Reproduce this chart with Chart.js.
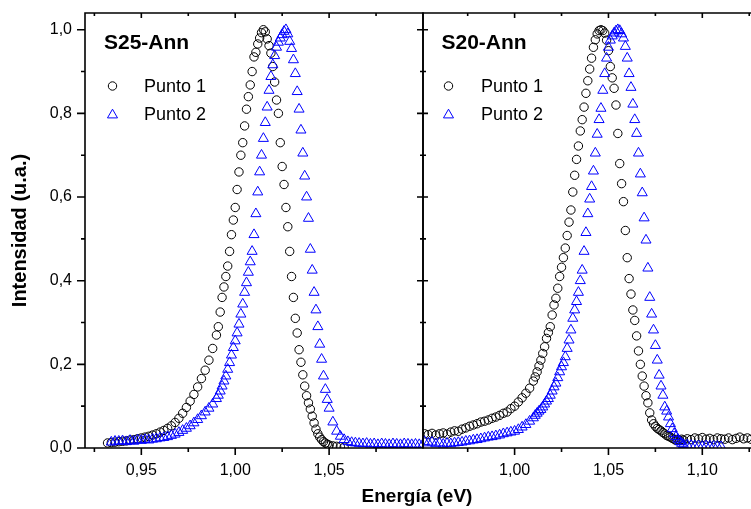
<!DOCTYPE html>
<html><head><meta charset="utf-8">
<script src="https://cdn.jsdelivr.net/npm/chart.js@4.4.1/dist/chart.umd.min.js"></script>
<style>
html,body{margin:0;padding:0;background:#fff;overflow:hidden;width:751px;height:509px;}
#wrap{position:relative;width:751px;height:509px;overflow:hidden;background:#fff;}
#c1{position:absolute;left:0;top:0;}
#c2{position:absolute;left:422px;top:0;}
#xt{position:absolute;left:0;top:485px;width:834px;text-align:center;font:bold 19px "Liberation Sans",Arial,sans-serif;line-height:22px;color:#000;}
</style></head>
<body><div id="wrap">
<canvas id="c1" width="424" height="509"></canvas>
<canvas id="c2" width="338" height="509"></canvas>
<div id="xt">Energía (eV)</div>
</div>
<script>
// ---------- DATA ----------
// Left panel (S25-Ann): photon energy (eV)
const energyS25 = [0.932,0.934,0.936,0.938,0.940,0.942,0.944,0.946,0.948,0.950,0.952,0.954,0.956,0.958,0.960,0.962,0.964,0.966,0.968,0.970,0.972,0.974,0.976,0.978,0.980,0.982,0.984,0.986,0.988,0.990,
0.991,0.992,0.993,0.994,0.995,0.996,0.997,0.998,0.999,1.000,1.001,1.002,1.003,1.004,1.005,1.006,1.007,1.008,1.009,1.010,
1.011,1.012,1.013,1.014,1.015,1.016,1.017,1.018,1.019,1.020,1.021,1.022,1.023,1.024,1.025,1.026,1.027,1.028,1.029,1.030,
1.031,1.032,1.033,1.034,1.035,1.036,1.037,1.038,1.039,1.040,1.041,1.042,1.043,1.044,1.045,1.046,1.047,1.048,1.049,1.050,
1.052,1.054,1.056,1.058,1.060,1.062,1.064,1.066,1.068,1.070,1.072,1.074,1.076,1.078,1.080,1.082,1.084,1.086,1.088,1.090,1.092,1.094,1.096,1.098,1.100];
const s25Punto1 = [0.012,0.013,0.014,0.015,0.016,0.017,0.019,0.020,0.022,0.024,0.026,0.028,0.031,0.034,0.038,0.042,0.047,0.053,0.061,0.071,0.083,0.097,0.112,0.128,0.146,0.166,0.186,0.210,0.238,0.270,
0.290,0.325,0.360,0.385,0.410,0.435,0.470,0.510,0.545,0.575,0.618,0.660,0.700,0.730,0.770,0.810,0.840,0.868,0.900,0.935,
0.946,0.966,0.980,0.993,1.000,0.995,0.978,0.962,0.944,0.912,0.875,0.832,0.800,0.730,0.673,0.630,0.575,0.529,0.470,0.410,
0.360,0.310,0.275,0.235,0.205,0.175,0.148,0.125,0.108,0.093,0.076,0.060,0.045,0.034,0.026,0.020,0.015,0.012,0.009,0.007,
0.005,0.004,0.003,0.002,null,null,null,null,null,null,null,null,null,null,null,null,null,null,null,null,null,null,null,null,null];
const s25Punto2 = [null,0.014,0.016,0.016,0.017,0.015,0.018,0.016,0.019,0.018,0.020,0.019,0.021,0.022,0.024,0.025,0.027,0.030,0.033,0.037,0.042,0.047,0.053,0.060,0.068,0.077,0.086,0.095,0.105,0.118,
0.126,0.136,0.148,0.160,0.172,0.188,0.204,0.222,0.240,0.256,0.275,0.296,0.320,0.344,0.372,0.395,0.420,0.445,0.470,0.510,
0.560,0.612,0.660,0.700,0.740,0.778,0.815,0.855,0.888,0.916,0.938,0.958,0.970,0.980,0.988,0.996,1.000,0.990,0.972,0.955,
0.928,0.895,0.852,0.810,0.760,0.705,0.650,0.600,0.549,0.475,0.425,0.372,0.330,0.290,0.248,0.212,0.172,0.140,0.116,0.095,
0.062,0.040,0.028,0.020,0.015,0.013,0.012,0.011,0.010,0.011,0.009,0.010,0.008,0.010,0.009,0.008,0.010,0.009,0.008,0.010,0.009,0.008,0.009,0.008,0.009];

// Right panel (S20-Ann)
const energyS20 = [0.952,0.954,0.956,0.958,0.960,0.962,0.964,0.966,0.968,0.970,0.972,0.974,0.976,0.978,0.980,0.982,0.984,0.986,0.988,0.990,0.992,0.994,0.996,0.998,1.000,1.002,1.004,1.006,1.008,1.010,
1.011,1.012,1.013,1.014,1.015,1.016,1.017,1.018,1.019,1.020,1.021,1.022,1.023,1.024,1.025,1.026,1.027,1.028,1.029,1.030,
1.031,1.032,1.033,1.034,1.035,1.036,1.037,1.038,1.039,1.040,1.041,1.042,1.043,1.044,1.045,1.046,1.047,1.048,1.049,1.050,
1.051,1.052,1.053,1.054,1.055,1.056,1.057,1.058,1.059,1.060,1.061,1.062,1.063,1.064,1.065,1.066,1.067,1.068,1.069,1.070,
1.071,1.072,1.073,1.074,1.075,1.076,1.077,1.078,1.079,1.080,1.081,1.082,1.083,1.084,1.085,1.086,1.087,1.088,1.089,1.090,
1.092,1.094,1.096,1.098,1.100,1.102,1.104,1.106,1.108,1.110,1.112,1.114,1.116,1.118,1.120,1.122,1.124,1.126];
const s20Punto1 = [0.034,0.032,0.035,0.031,0.034,0.036,0.033,0.038,0.041,0.040,0.045,0.048,0.052,0.055,0.058,0.062,0.064,0.067,0.071,0.074,0.078,0.083,0.086,0.094,0.100,0.110,0.120,0.131,0.143,0.160,
0.170,0.182,0.196,0.210,0.226,0.242,0.262,0.276,0.290,0.318,0.342,0.358,0.382,0.410,0.432,0.455,0.478,0.508,0.540,0.569,
0.612,0.652,0.690,0.722,0.758,0.785,0.815,0.848,0.878,0.906,0.932,0.958,0.976,0.990,0.998,1.000,0.998,0.992,0.975,0.950,
0.912,0.885,0.860,0.820,0.752,0.680,0.632,0.589,0.520,0.455,0.405,0.368,0.330,0.305,0.268,0.232,0.200,0.172,0.148,0.125,
0.108,0.084,0.067,0.058,0.052,0.047,0.044,0.041,0.037,0.034,0.030,0.028,0.026,0.023,0.021,0.018,0.020,0.018,0.021,0.019,
0.022,0.020,0.024,0.022,0.025,0.021,0.023,0.020,0.024,0.022,0.021,0.024,0.020,0.023,0.026,0.022,0.024,0.021];
const s20Punto2 = [0.015,0.012,0.014,0.010,0.012,0.009,0.011,0.010,0.012,0.013,0.014,0.016,0.017,0.019,0.020,0.022,0.024,0.026,0.027,0.029,0.031,0.034,0.036,0.038,0.040,0.044,0.050,0.056,0.064,0.072,
0.078,0.083,0.088,0.092,0.098,0.105,0.112,0.118,0.126,0.136,0.146,0.155,0.168,0.182,0.194,0.204,0.218,0.238,0.258,0.282,
0.310,0.330,0.350,0.372,0.400,0.425,0.470,0.515,0.560,0.595,0.625,0.662,0.705,0.750,0.785,0.812,0.855,0.895,0.932,0.958,
0.975,0.985,0.992,0.997,1.000,0.998,0.990,0.980,0.960,0.932,0.895,0.862,0.822,0.785,0.752,0.705,0.655,0.610,0.550,0.497,
0.430,0.360,0.320,0.282,0.245,0.210,0.174,0.148,0.126,0.098,0.088,0.074,0.058,0.046,0.034,0.027,0.021,0.015,0.011,0.008,
0.007,0.006,0.005,0.005,0.004,0.005,0.004,0.004,0.004,0.003,null,null,null,null,null,null,null,null];

// Ticks
const yTickValues = [0,0.1,0.2,0.3,0.4,0.5,0.6,0.7,0.8,0.9,1.0];
const yTickLabels = ['0,0','','0,2','','0,4','','0,6','','0,8','','1,0'];
const xTickValuesS25 = [0.925,0.95,0.975,1.00,1.025,1.05,1.075,1.10];
const xTickLabelsS25 = ['','0,95','','1,00','','1,05','',''];
const xTickValuesS20 = [0.975,1.00,1.025,1.05,1.075,1.10,1.125];
const xTickLabelsS20 = ['','1,00','','1,05','','1,10',''];
const seriesNames = ['Punto 1','Punto 2'];

// ---------- RENDER ----------
const FONT = '"Liberation Sans", Arial, sans-serif';
function pts(xs, ys){ return xs.map((x,i)=>({x:x,y:ys[i]})).filter(p=>p.y!==null); }
function zeroPad(s){ s.paddingLeft=0; s.paddingRight=0; s.paddingTop=0; s.paddingBottom=0; }

const framePlugin = {
  id:'frame',
  afterDatasetsDraw(chart, args, o){
    const {ctx, chartArea:a, scales:{x,y}} = chart;
    ctx.save();
    ctx.strokeStyle='#000'; ctx.lineWidth=1.6;
    ctx.beginPath();
    ctx.rect(a.left, a.top, a.right-a.left, a.bottom-a.top);
    const xt = (vals, len) => vals.forEach(v=>{const p=x.getPixelForValue(v);
      ctx.moveTo(p,a.bottom); ctx.lineTo(p,a.bottom+len[0]);
      ctx.moveTo(p,a.top); ctx.lineTo(p,a.top+len[1]);});
    xt(o.xMajor,[7,5]); xt(o.xMinor,[4,3]);
    const yt = (vals, len) => vals.forEach(v=>{const p=y.getPixelForValue(v);
      if(len[0]) { ctx.moveTo(a.left,p); ctx.lineTo(a.left+len[0],p); }
      if(len[1]) { ctx.moveTo(a.right,p); ctx.lineTo(a.right-len[1],p); }});
    yt(o.yMajor,o.yMajorLen); yt(o.yMinor,o.yMinorLen);
    ctx.stroke();
    ctx.restore();
  }
};
const textPlugin = {
  id:'panelText',
  afterDraw(chart, args, o){
    const ctx = chart.ctx;
    ctx.save();
    ctx.fillStyle='#000'; ctx.textAlign='left'; ctx.textBaseline='middle';
    ctx.font = 'bold 21px '+FONT;
    ctx.fillText(o.title, o.tx, o.ty);
    ctx.font = '18px '+FONT;
    ctx.fillText(seriesNames[0], o.lx, o.ly1+1);
    ctx.fillText(seriesNames[1], o.lx, o.ly2+1);
    ctx.lineWidth=1;
    ctx.strokeStyle='#000';
    ctx.beginPath(); ctx.arc(o.mx, o.ly1, 4.2, 0, Math.PI*2); ctx.stroke();
    ctx.strokeStyle='#0000ff';
    const r=5.8, cx=o.mx, cy=o.ly2+1;
    ctx.beginPath(); ctx.moveTo(cx, cy-r); ctx.lineTo(cx+0.866*r, cy+0.5*r); ctx.lineTo(cx-0.866*r, cy+0.5*r); ctx.closePath(); ctx.stroke();
    ctx.restore();
  }
};

function makeChart(id, xs, y1, y2, xmin, xmax, xv, xl, showY, pad, frameOpts, textOpts){
  return new Chart(document.getElementById(id), {
    type:'scatter',
    data:{datasets:[
      {label:seriesNames[1], data:pts(xs,y2), pointStyle:'triangle', pointRadius:5.8, pointHoverRadius:5.8, borderColor:'#0000ff', backgroundColor:'rgba(0,0,0,0)', borderWidth:1, showLine:false},
      {label:seriesNames[0], data:pts(xs,y1), pointStyle:'circle', pointRadius:4.2, pointHoverRadius:4.2, borderColor:'#000', backgroundColor:'rgba(0,0,0,0)', borderWidth:1, showLine:false}
    ]},
    options:{
      responsive:false, animation:false, events:[],
      layout:{padding:pad, autoPadding:false},
      plugins:{legend:{display:false}, tooltip:{enabled:false}, frame:frameOpts, panelText:textOpts},
      scales:{
        x:{type:'linear', min:xmin, max:xmax,
          grid:{display:false, drawTicks:false}, border:{display:false},
          afterBuildTicks:s=>{ s.ticks = xv.map(v=>({value:v})); },
          afterFit:s=>{ s.height = 61; zeroPad(s); },
          ticks:{padding:13, color:'#000', font:{family:FONT,size:16}, maxRotation:0, autoSkip:false,
            callback:(v,i)=>xl[i]}
        },
        y:{type:'linear', min:0, max:1.04, display:showY,
          grid:{display:false, drawTicks:false}, border:{display:false},
          afterBuildTicks:s=>{ s.ticks = yTickValues.map(v=>({value:v})); },
          afterFit:s=>{ s.width = showY ? 85 : 0; zeroPad(s); },
          ticks:{padding:13, color:'#000', font:{family:FONT,size:16}, autoSkip:false,
            callback:(v,i)=>yTickLabels[i]},
          title:{display:showY, text:'Intensidad (u.a.)', color:'#000', font:{family:FONT,size:20,weight:'bold'}, padding:{top:8,bottom:0}}
        }
      }
    },
    plugins:[framePlugin, textPlugin]
  });
}

const yMaj=[0,0.2,0.4,0.6,0.8,1.0], yMin=[0.1,0.3,0.5,0.7,0.9];
makeChart('c1', energyS25, s25Punto1, s25Punto2, 0.92, 1.10, xTickValuesS25, xTickLabelsS25, true,
  {top:13,right:1,left:0,bottom:0},
  {xMajor:[0.95,1.00,1.05], xMinor:[0.925,0.975,1.025,1.075], yMajor:yMaj, yMinor:yMin, yMajorLen:[-8,6], yMinorLen:[-4,3]},
  {title:'S25-Ann', tx:104, ty:43, mx:112.5, lx:144, ly1:86, ly2:114});
makeChart('c2', energyS20, s20Punto1, s20Punto2, 0.9512, 1.1302, xTickValuesS20, xTickLabelsS20, false,
  {top:13,right:1,left:1,bottom:0},
  {xMajor:[1.00,1.05,1.10], xMinor:[0.975,1.025,1.075,1.125], yMajor:yMaj, yMinor:yMin, yMajorLen:[5,0], yMinorLen:[3,0]},
  {title:'S20-Ann', tx:441.5-422, ty:43, mx:448.5-422, lx:481-422, ly1:86, ly2:114});
</script>
</body></html>
